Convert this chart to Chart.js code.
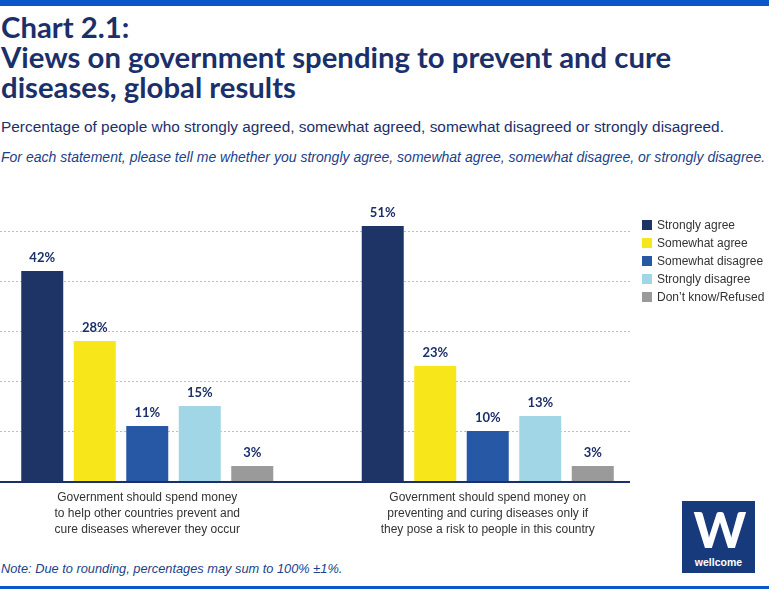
<!DOCTYPE html>
<html>
<head>
<meta charset="utf-8">
<script src="https://cdn.jsdelivr.net/npm/chart.js@4"></script>
<style>
  html, body { margin: 0; padding: 0; background: #fff; }
  body { width: 769px; height: 589px; position: relative; overflow: hidden; font-family: "Liberation Sans", Arial, sans-serif; }
  .topbar { position: absolute; left: 0; top: 0; width: 769px; height: 6px; background: #0b56c8; }
  .botbar { position: absolute; left: 0; top: 586px; width: 769px; height: 3px; background: #0b56c8; }
  .title { position: absolute; left: 1px; top: 12px; font-family: Lato, sans-serif; font-weight: 700; font-size: 29.3px; line-height: 30px; color: #1b2f6a; white-space: nowrap; }
  .sub { position: absolute; left: 1px; top: 118px; font-size: 15.4px; color: #1b2f6a; white-space: nowrap; }
  .question { position: absolute; left: 1px; top: 148px; font-size: 15px; font-style: italic; color: #1b3f8a; white-space: nowrap; transform-origin: 0 0; }
  .note { position: absolute; left: 1px; top: 561px; font-size: 12.8px; font-style: italic; color: #1b3f8a; white-space: nowrap; }
  #chartWrap { position: absolute; left: -23px; top: 170px; width: 681px; height: 371px; }
  .legend { position: absolute; left: 642px; top: 218px; font-size: 12px; color: #333; z-index: 2; }
  .legend div { height: 18px; line-height: 14px; white-space: nowrap; }
  .legend span { display: inline-block; width: 10px; height: 10px; margin-right: 5px; vertical-align: -1px; }
  .logo { position: absolute; left: 682px; top: 501px; width: 73px; height: 72px; background: #173a7c; color: #fff; text-align: center; }
  .logo .w { font-family: Lato, sans-serif; font-weight: 900; font-size: 50px; line-height: 48px; margin-top: 4px; letter-spacing: -3px; }
  .logo .name { font-family: "Liberation Sans", sans-serif; font-weight: 700; font-size: 10.5px; margin-top: 3px; }
</style>
</head>
<body>
<div class="topbar"></div>
<div class="title">Chart 2.1:<br>Views on government spending to prevent and cure<br>diseases, global results</div>
<div class="sub">Percentage of people who strongly agreed, somewhat agreed, somewhat disagreed or strongly disagreed.</div>
<div class="question" id="question">For each statement, please tell me whether you strongly agree, somewhat agree, somewhat disagree, or strongly disagree.</div>
<div id="chartWrap"><canvas id="chart"></canvas></div>
<div class="legend" id="legend"></div>
<div class="note">Note: Due to rounding, percentages may sum to 100% ±1%.</div>
<div class="logo"><div class="w">W</div><div class="name">wellcome</div></div>
<div class="botbar"></div>
<script>
// Data
const categories = [
  ["Government should spend money", "to help other countries prevent and", "cure diseases wherever they occur"],
  ["Government should spend money on", "preventing and curing diseases only if", "they pose a risk to people in this country"],
];
const seriesNames = ["Strongly agree", "Somewhat agree", "Somewhat disagree", "Strongly disagree", "Don\u2019t know/Refused"];
const stronglyAgree = [42, 51];
const somewhatAgree = [28, 23];
const somewhatDisagree = [11, 10];
const stronglyDisagree = [15, 13];
const dontKnow = [3, 3];
const gridTicks = [10, 20, 30, 40, 50];

const seriesColors = ["#1f3466", "#f7e619", "#2658a6", "#a0d6e6", "#9a9a9a"];
const seriesValues = [stronglyAgree, somewhatAgree, somewhatDisagree, stronglyDisagree, dontKnow];

// squeeze the question line so it fits the page like the original condensed face
const q = document.getElementById("question");
q.style.transform = "scaleX(" + (764 / q.offsetWidth) + ")";

// HTML legend
const legendEl = document.getElementById("legend");
seriesNames.forEach((name, i) => {
  const row = document.createElement("div");
  row.innerHTML = '<span style="background:' + seriesColors[i] + '"></span>' + name;
  legendEl.appendChild(row);
});

const OFFSET_X = 23; // canvas sits 23px left of the page
const GRID_RIGHT = 630;

// dashed grid + baseline, drawn only over the plot part of the page
const gridPlugin = {
  id: "customGrid",
  beforeDatasetsDraw(chart) {
    const { ctx, scales: { y } } = chart;
    ctx.save();
    ctx.strokeStyle = "#bdbdbd";
    ctx.lineWidth = 1;
    ctx.setLineDash([2, 2]);
    gridTicks.forEach((t) => {
      const py = Math.round(y.getPixelForValue(t)) + 0.5;
      ctx.beginPath();
      ctx.moveTo(OFFSET_X, py);
      ctx.lineTo(OFFSET_X + GRID_RIGHT, py);
      ctx.stroke();
    });
    ctx.restore();
  },
  afterDatasetsDraw(chart) {
    const { ctx, scales: { x, y } } = chart;
    ctx.save();
    // baseline
    ctx.strokeStyle = "#1b2f6a";
    ctx.lineWidth = 2;
    const by = y.getPixelForValue(0) + 1;
    ctx.beginPath();
    ctx.moveTo(OFFSET_X, by);
    ctx.lineTo(OFFSET_X + GRID_RIGHT, by);
    ctx.stroke();

    // value labels
    ctx.fillStyle = "#1b2f6a";
    ctx.font = "bold 13px Lato, sans-serif";
    ctx.textAlign = "center";
    ctx.textBaseline = "bottom";
    chart.data.datasets.forEach((ds, di) => {
      chart.getDatasetMeta(di).data.forEach((bar, i) => {
        ctx.fillText(ds.data[i] + "%", bar.x, bar.y - 7);
      });
    });

    // category labels
    ctx.fillStyle = "#333";
    ctx.font = "12px 'Liberation Sans', Arial, sans-serif";
    ctx.textBaseline = "middle";
    categories.forEach((lines, i) => {
      const cx = x.getPixelForValue(i);
      lines.forEach((line, li) => {
        ctx.fillText(line, cx, y.getPixelForValue(0) + 17 + li * 16);
      });
    });
    ctx.restore();
  },
};

new Chart(document.getElementById("chart").getContext("2d"), {
  type: "bar",
  data: {
    labels: categories.map((c) => c.join(" ")),
    datasets: seriesNames.map((name, i) => ({
      label: name,
      data: seriesValues[i],
      backgroundColor: seriesColors[i],
      barPercentage: 0.8,
      categoryPercentage: 0.771,
    })),
  },
  options: {
    responsive: true,
    maintainAspectRatio: false,
    animation: false,
    layout: { padding: { top: 11, bottom: 60, left: 0, right: 0 } },
    plugins: {
      legend: { display: false },
      tooltip: { enabled: false },
    },
    scales: {
      x: { display: false },
      y: { display: false, min: 0, max: 60 },
    },
  },
  plugins: [gridPlugin],
});
</script>
</body>
</html>
